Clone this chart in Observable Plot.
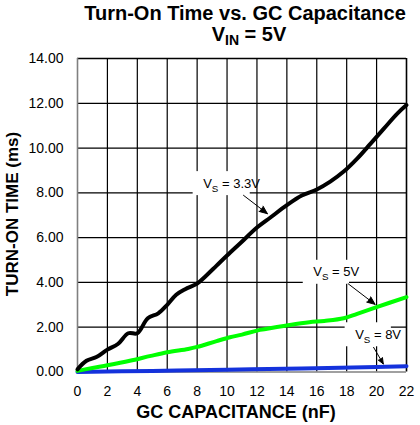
<!DOCTYPE html>
<html><head><meta charset="utf-8">
<script src="https://cdn.jsdelivr.net/npm/d3@7"></script>
<script src="https://cdn.jsdelivr.net/npm/@observablehq/plot@0.6"></script>
<style>body{margin:0;background:#fff;}</style>
</head><body><div id="chart"></div>
<script>
// GC capacitance (nF) vs turn-on time (ms)
const vs33 = [[0,0.12],[0.6,0.5],[1.3,0.68],[2,1.0],[2.7,1.25],[3.4,1.73],[4,1.73],[4.7,2.4],[5.4,2.62],[6,3.0],[6.6,3.45],[7.2,3.7],[8,3.95],[8.6,4.3],[9.3,4.75],[10,5.2],[10.9,5.76],[12,6.45],[12.9,6.9],[14,7.45],[15,7.88],[16,8.15],[16.9,8.5],[17.8,8.95],[18.7,9.53],[19.6,10.2],[20.5,10.88],[21.4,11.55],[22,11.92]];
const vs5 = [[0,0.05],[1,0.18],[2,0.3],[3.5,0.5],[4.9,0.72],[6,0.88],[7.4,1.03],[8,1.12],[9.3,1.38],[10.2,1.55],[11,1.67],[12.2,1.88],[14.2,2.1],[15.5,2.22],[16.5,2.28],[17.8,2.4],[18.7,2.6],[20,2.9],[22,3.34]];
const vs8 = [[0,0.0],[5,0.05],[10,0.1],[15,0.16],[20,0.22],[22,0.26]];
const xTicks = [0,2,4,6,8,10,12,14,16,18,20,22];
const yTicks = [0,2,4,6,8,10,12,14];
const seriesNames = ["3.3V","5V","8V"];
const seriesColors = ["#000000","#00ff00","#1432dc"];
// annotation anchors (data units)
const labelPos = [[10.3,8.42],[17.3,4.46],[20.1,1.67]];
const arrowFrom = [[11.1,7.89],[18.1,3.94],[19.8,1.1]];
const arrowTo = [[12.7,7.07],[19.9,3.02],[20.45,0.36]];

const font = "'Liberation Sans', Arial, Helvetica, sans-serif";
const annots = seriesNames.map((n,i)=>({name:n, lx:labelPos[i][0], ly:labelPos[i][1], x1:arrowFrom[i][0], y1:arrowFrom[i][1], x2:arrowTo[i][0], y2:arrowTo[i][1]}));

const plot = Plot.plot({
  width: 420, height: 425,
  marginTop: 58, marginBottom: 53.5, marginLeft: 77, marginRight: 14,
  style: {fontFamily: font, fontSize: "14px", background: "white", color: "black", overflow: "visible"},
  x: {domain: [0,22]},
  y: {domain: [0,14]},
  marks: [
    Plot.ruleX(xTicks.filter(d=>d>0&&d<22), {stroke:"black", strokeWidth:1.2}),
    Plot.ruleY(yTicks.filter(d=>d>0&&d<14), {stroke:"black", strokeWidth:1.2}),
    Plot.ruleY([14], {stroke:"black", strokeWidth:1.6}),
    Plot.ruleX([22], {stroke:"black", strokeWidth:1.6}),
    Plot.ruleX([0], {stroke:"#808080", strokeWidth:1.6}),
    Plot.ruleY([0], {stroke:"#808080", strokeWidth:1.6}),
    Plot.axisX({ticks:xTicks, tickSize:0, tickPadding:14, label:null, tickFormat:d=>String(d), fontSize:14}),
    Plot.axisY({ticks:yTicks, tickSize:0, tickPadding:14, label:null, tickFormat:d=>d.toFixed(2), fontSize:14}),
    Plot.line(vs8, {x:d=>d[0], y:d=>d[1], stroke:seriesColors[2], strokeWidth:4, curve:"catmull-rom"}),
    Plot.line(vs5, {x:d=>d[0], y:d=>d[1], stroke:seriesColors[1], strokeWidth:4, curve:"catmull-rom"}),
    Plot.line(vs33, {x:d=>d[0], y:d=>d[1], stroke:seriesColors[0], strokeWidth:4, curve:"catmull-rom", strokeLinejoin:"round"}),
    Plot.text(annots, {x:"lx", y:"ly", text:"name", fontSize:13, fill:"black"}),
    Plot.arrow(annots, {x1:"x1", y1:"y1", x2:"x2", y2:"y2", stroke:"black", fill:"black", strokeWidth:1, headLength:13, headAngle:45})
  ]
});
document.getElementById("chart").append(plot);
const svg = d3.select(plot);
// subscripts in annotation labels + white boxes
const labelTexts = svg.selectAll("text").filter(function(){ return seriesNames.includes(this.textContent); });
const firstG = labelTexts.size() ? labelTexts.node().parentNode : null;
const boxG = firstG ? d3.select(firstG.parentNode).insert("g", () => firstG) : svg.append("g");
labelTexts.each(function(){
  const t = d3.select(this);
  const name = this.textContent;
  t.text(null);
  t.append("tspan").text("V");
  t.append("tspan").attr("font-size","0.75em").attr("dy","4").text("S");
  t.append("tspan").attr("dy","-4").text(" = " + name);
  const b = this.getBBox();
  const cy = b.y + b.height/2;
  const tr = this.getAttribute("transform");
  const r = boxG.append("rect");
  if (tr) r.attr("transform", tr);
  r.attr("x", b.x - 10).attr("y", cy - 13).attr("width", b.width).attr("height", 24).attr("fill","white");
});
// title
const tg = svg.append("g").attr("font-family", font).attr("font-weight","bold").attr("text-anchor","middle").attr("fill","black");
tg.append("text").attr("x",245).attr("y",20).attr("font-size",20).text("Turn-On Time vs. GC Capacitance");
const t2 = tg.append("text").attr("x",249).attr("y",41).attr("font-size",20);
t2.append("tspan").text("V");
t2.append("tspan").attr("font-size",14).attr("dy",4).text("IN");
t2.append("tspan").attr("dy",-4).text(" = 5V");
// axis titles
svg.append("text").attr("x",236).attr("y",418).attr("text-anchor","middle").attr("font-family",font).attr("font-weight","bold").attr("font-size",18).text("GC CAPACITANCE (nF)");
svg.append("text").attr("transform","translate(18,214) rotate(-90)").attr("text-anchor","middle").attr("font-family",font).attr("font-weight","bold").attr("font-size",17).text("TURN-ON TIME (ms)");
</script></body></html>
